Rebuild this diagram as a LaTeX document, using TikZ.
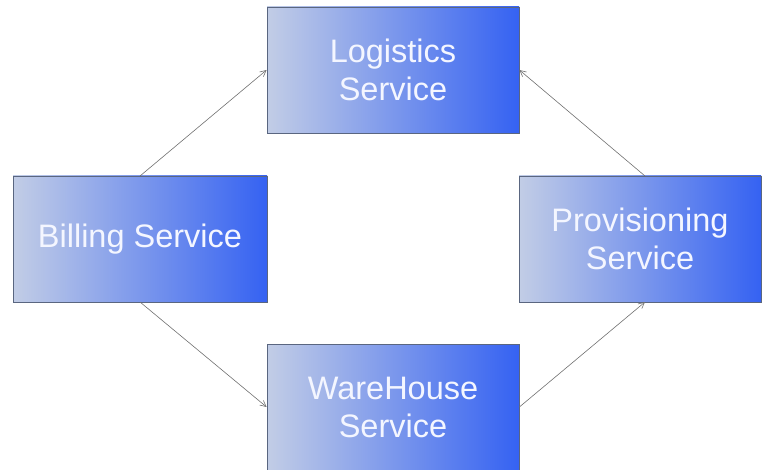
\documentclass[tikz,border=0pt]{standalone}
\usepackage{fontspec}
\setmainfont{Liberation Sans}
\usetikzlibrary{arrows.meta}
\definecolor{boxleft}{HTML}{C2CDE6}
\definecolor{boxright}{HTML}{3562F2}
\definecolor{boxedge}{HTML}{5A6680}
\definecolor{linkgray}{HTML}{707070}
\definecolor{txt}{HTML}{F4F6FF}
\tikzset{
  svcbox/.style={draw=boxedge, line width=0.8pt, left color=boxleft, right color=boxright,
    minimum width=252pt, minimum height=126pt, inner sep=0pt,
    text=txt, align=center, font=\fontsize{32.5}{38}\selectfont},
  link/.style={draw=linkgray, line width=0.6pt, -{Straight Barb[length=6pt,width=6pt]}}
}
\begin{document}
\begin{tikzpicture}[x=1pt,y=-1pt]
\useasboundingbox (0,0) rectangle (762,470);
\node[svcbox] (log) at (393,70) {Logistics\\Service};
\node[svcbox, minimum width=254pt] (bil) at (140,239) {Billing Service};
\node[svcbox, minimum width=242pt] (pro) at (640,239) {Provisioning\\Service};
\node[svcbox] (war) at (393,407) {WareHouse\\Service};
\coordinate (bt) at (140,176);
\coordinate (bb) at (140,302);
\coordinate (pt) at (645,176);
\coordinate (pb) at (645,302);
\draw[link] (bt) -- (log.west);
\draw[link] (pt) -- (log.east);
\draw[link] (bb) -- (war.west);
\draw[link] (war.east) -- (pb);
\end{tikzpicture}
\end{document}
